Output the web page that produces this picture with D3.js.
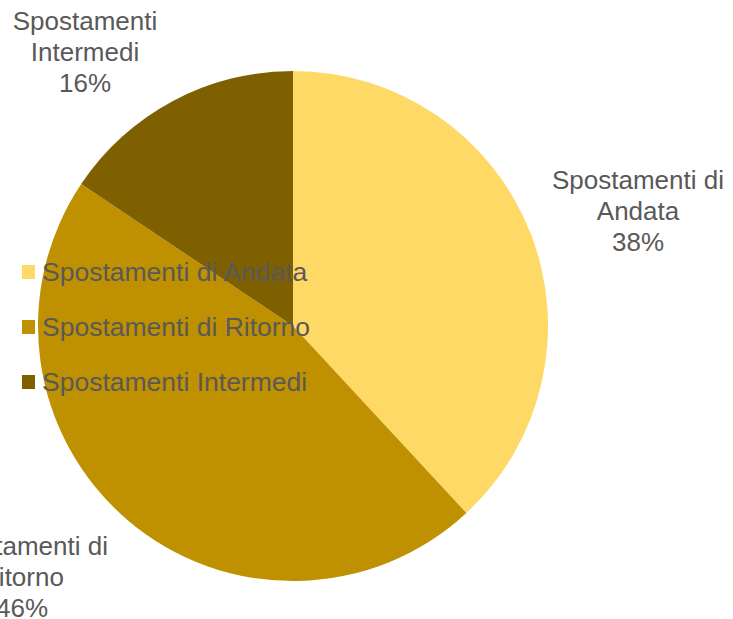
<!DOCTYPE html>
<html>
<head>
<meta charset="utf-8">
<script src="https://cdn.jsdelivr.net/npm/d3@7"></script>
<style>
  html, body { margin: 0; padding: 0; background: #ffffff; }
  svg { display: block; }
</style>
</head>
<body>
<svg id="chart" width="733" height="619"></svg>
<script>
// ---- data ----
const categories = ["Spostamenti di Andata", "Spostamenti di Ritorno", "Spostamenti Intermedi"];
const labelLines = [["Spostamenti di", "Andata"], ["Spostamenti di", "Ritorno"], ["Spostamenti", "Intermedi"]];
const values = [38.1, 46.3, 15.6];
const colors = ["#FFD966", "#BF9000", "#7F6000"];

// ---- layout ----
const W = 733, H = 619;
const cx = 293, cy = 326, radius = 255;
const labelCenters = [[638, 189], [22, 555], [85, 30]]; // x center, first baseline
const lineGap = 31;
const fontFamily = "Arial, 'Liberation Sans', sans-serif";
const textColor = "#595959";

const svg = d3.select("#chart");
const total = d3.sum(values);

const pie = d3.pie().sort(null).value(d => d)(values);
const arc = d3.arc().innerRadius(0).outerRadius(radius);

const g = svg.append("g").attr("transform", `translate(${cx},${cy})`);
g.selectAll("path")
  .data(pie)
  .join("path")
  .attr("d", arc)
  .attr("fill", (d, i) => colors[i]);

// data labels
pie.forEach((d, i) => {
  const [lx, ly] = labelCenters[i];
  const t = svg.append("text")
    .attr("text-anchor", "middle")
    .attr("font-family", fontFamily)
    .attr("font-size", 26)
    .attr("fill", textColor);
  const lines = labelLines[i].concat([Math.round(values[i] / total * 100) + "%"]);
  lines.forEach((ln, k) => {
    t.append("tspan").attr("x", lx).attr("y", ly + k * lineGap).text(ln);
  });
});

// legend
const legend = svg.append("g");
categories.forEach((c, i) => {
  const y = 281 + i * 55;
  legend.append("rect")
    .attr("x", 22).attr("y", y - 16)
    .attr("width", 13).attr("height", 14)
    .attr("fill", colors[i]);
  legend.append("text")
    .attr("x", 42).attr("y", y)
    .attr("font-family", fontFamily)
    .attr("font-size", 26.5)
    .attr("fill", textColor)
    .text(c);
});
</script>
</body>
</html>
